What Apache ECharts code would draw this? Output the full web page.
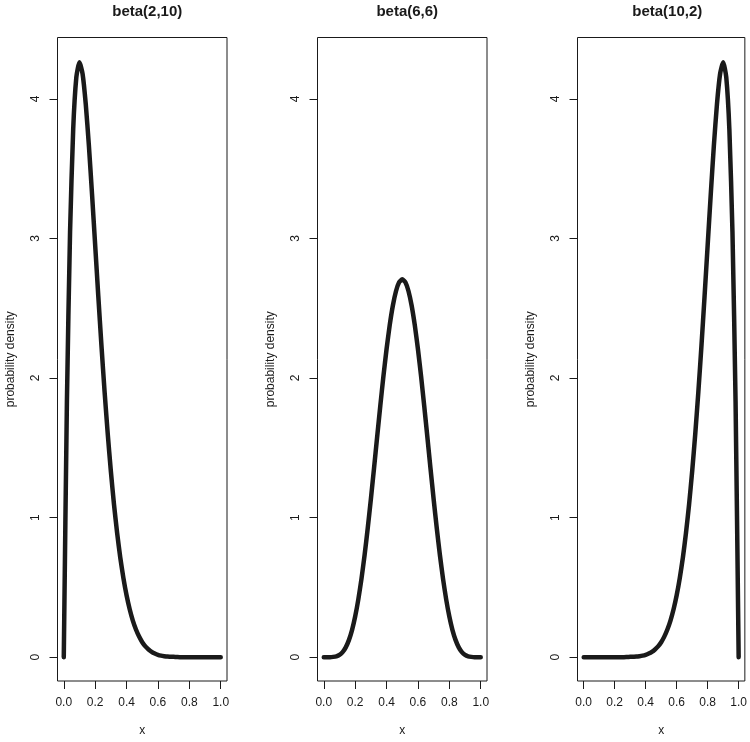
<!DOCTYPE html>
<html>
<head>
<meta charset="utf-8">
<script src="https://cdn.jsdelivr.net/npm/echarts@6/dist/echarts.min.js"></script>
<style>
  html, body { margin: 0; padding: 0; background: #fff; }
  #chart { width: 750px; height: 742px; }
</style>
</head>
<body>
<div id="chart"></div>
<script>
// 三个 beta 分布密度曲线

const panelTitles = ['beta(2,10)', 'beta(6,6)', 'beta(10,2)'];
const xTicks = [0, 0.2, 0.4, 0.6, 0.8, 1.0];
const yTicks = [0, 1, 2, 3, 4];

const xValues = [0, 0.02, 0.04, 0.06, 0.08, 0.10, 0.12, 0.14, 0.16, 0.18,
  0.20, 0.22, 0.24, 0.26, 0.28, 0.30, 0.32, 0.34, 0.36, 0.38,
  0.40, 0.42, 0.44, 0.46, 0.48, 0.50, 0.52, 0.54, 0.56, 0.58,
  0.60, 0.62, 0.64, 0.66, 0.68, 0.70, 0.72, 0.74, 0.76, 0.78,
  0.80, 0.82, 0.84, 0.86, 0.88, 0.90, 0.92, 0.94, 0.96, 0.98, 1.00];

const beta210 = [0, 1.834, 3.047, 3.782, 4.155, 4.262, 4.178, 3.963, 3.665, 3.318,
  2.953, 2.586, 2.233, 1.903, 1.601, 1.332, 1.094, 0.889, 0.713, 0.566,
  0.443, 0.343, 0.262, 0.198, 0.147, 0.107, 0.077, 0.055, 0.038, 0.026,
  0.017, 0.011, 0.007, 0.004, 0.003, 0.002, 0.001, 0, 0, 0,
  0, 0, 0, 0, 0, 0, 0, 0, 0, 0, 0];

const beta66 = [0, 0, 0, 0.002, 0.006, 0.016, 0.036, 0.070, 0.122, 0.194,
  0.291, 0.413, 0.560, 0.731, 0.923, 1.132, 1.352, 1.577, 1.800, 2.012,
  2.207, 2.378, 2.518, 2.622, 2.686, 2.707, 2.686, 2.622, 2.518, 2.378,
  2.207, 2.012, 1.800, 1.577, 1.352, 1.132, 0.923, 0.731, 0.560, 0.413,
  0.291, 0.194, 0.122, 0.070, 0.036, 0.016, 0.006, 0.002, 0, 0, 0];

const beta102 = [0, 0, 0, 0, 0, 0, 0, 0, 0, 0,
  0, 0, 0, 0, 0.001, 0.002, 0.003, 0.004, 0.007, 0.011,
  0.017, 0.026, 0.038, 0.055, 0.077, 0.107, 0.147, 0.198, 0.262, 0.343,
  0.443, 0.566, 0.713, 0.889, 1.094, 1.332, 1.601, 1.903, 2.233, 2.586,
  2.953, 3.318, 3.665, 3.963, 4.178, 4.262, 4.155, 3.782, 3.047, 1.834, 0];

const densities = [beta210, beta66, beta102];

const font = "'Liberation Sans', Arial, Helvetica, sans-serif";
const ink = '#1a1a1a';
const panelLefts = [57.5, 317.5, 577.5];
const panelWidth = 169.5;
const panelTop = 37.5;
const panelHeight = 646;

let chart = echarts.init(document.getElementById('chart'));

let option = {
  animation: false,
  backgroundColor: '#fff',
  title: panelTitles.map((t, i) => ({
    text: t,
    left: panelLefts[i] + panelWidth / 2,
    top: -1,
    textAlign: 'center',
    textStyle: {fontFamily: font, fontSize: 15, fontWeight: 'bold', color: ink}
  })),
  grid: panelLefts.map(l => ({
    left: l,
    top: panelTop,
    width: panelWidth,
    height: panelHeight,
    show: true,
    borderColor: ink,
    borderWidth: 1,
    backgroundColor: 'transparent'
  })),
  xAxis: panelLefts.map((l, i) => ({
    type: 'value',
    gridIndex: i,
    position: 'bottom',
    min: -0.04,
    max: 1.04,
    name: 'x',
    nameLocation: 'middle',
    nameGap: 44,
    nameTextStyle: {fontFamily: font, fontSize: 12, color: ink},
    axisLine: {show: false, onZero: false},
    splitLine: {show: false},
    axisTick: {show: true, inside: false, length: 8, customValues: xTicks,
      lineStyle: {color: ink, width: 1}},
    axisLabel: {customValues: xTicks, margin: 16, fontFamily: font, fontSize: 12, color: ink,
      formatter: v => v.toFixed(1)}
  })),
  yAxis: panelLefts.map((l, i) => ({
    type: 'value',
    gridIndex: i,
    position: 'left',
    min: -0.171,
    max: 4.44,
    name: 'probability density',
    nameLocation: 'middle',
    nameRotate: 90,
    nameGap: 41,
    nameTextStyle: {fontFamily: font, fontSize: 12, color: ink},
    axisLine: {show: false, onZero: false},
    splitLine: {show: false},
    axisTick: {show: true, inside: false, length: 8, customValues: yTicks,
      lineStyle: {color: ink, width: 1}},
    axisLabel: {customValues: yTicks, rotate: 90, margin: 16, fontFamily: font, fontSize: 12, color: ink,
      formatter: v => String(v)}
  })),
  series: densities.map((d, i) => ({
    type: 'line',
    xAxisIndex: i,
    yAxisIndex: i,
    data: xValues.map((x, k) => [x, d[k]]),
    showSymbol: false,
    smooth: 0.2,
    lineStyle: {color: ink, width: 4.5, cap: 'round', join: 'round'}
  }))
};

chart.setOption(option);
</script>
</body>
</html>
